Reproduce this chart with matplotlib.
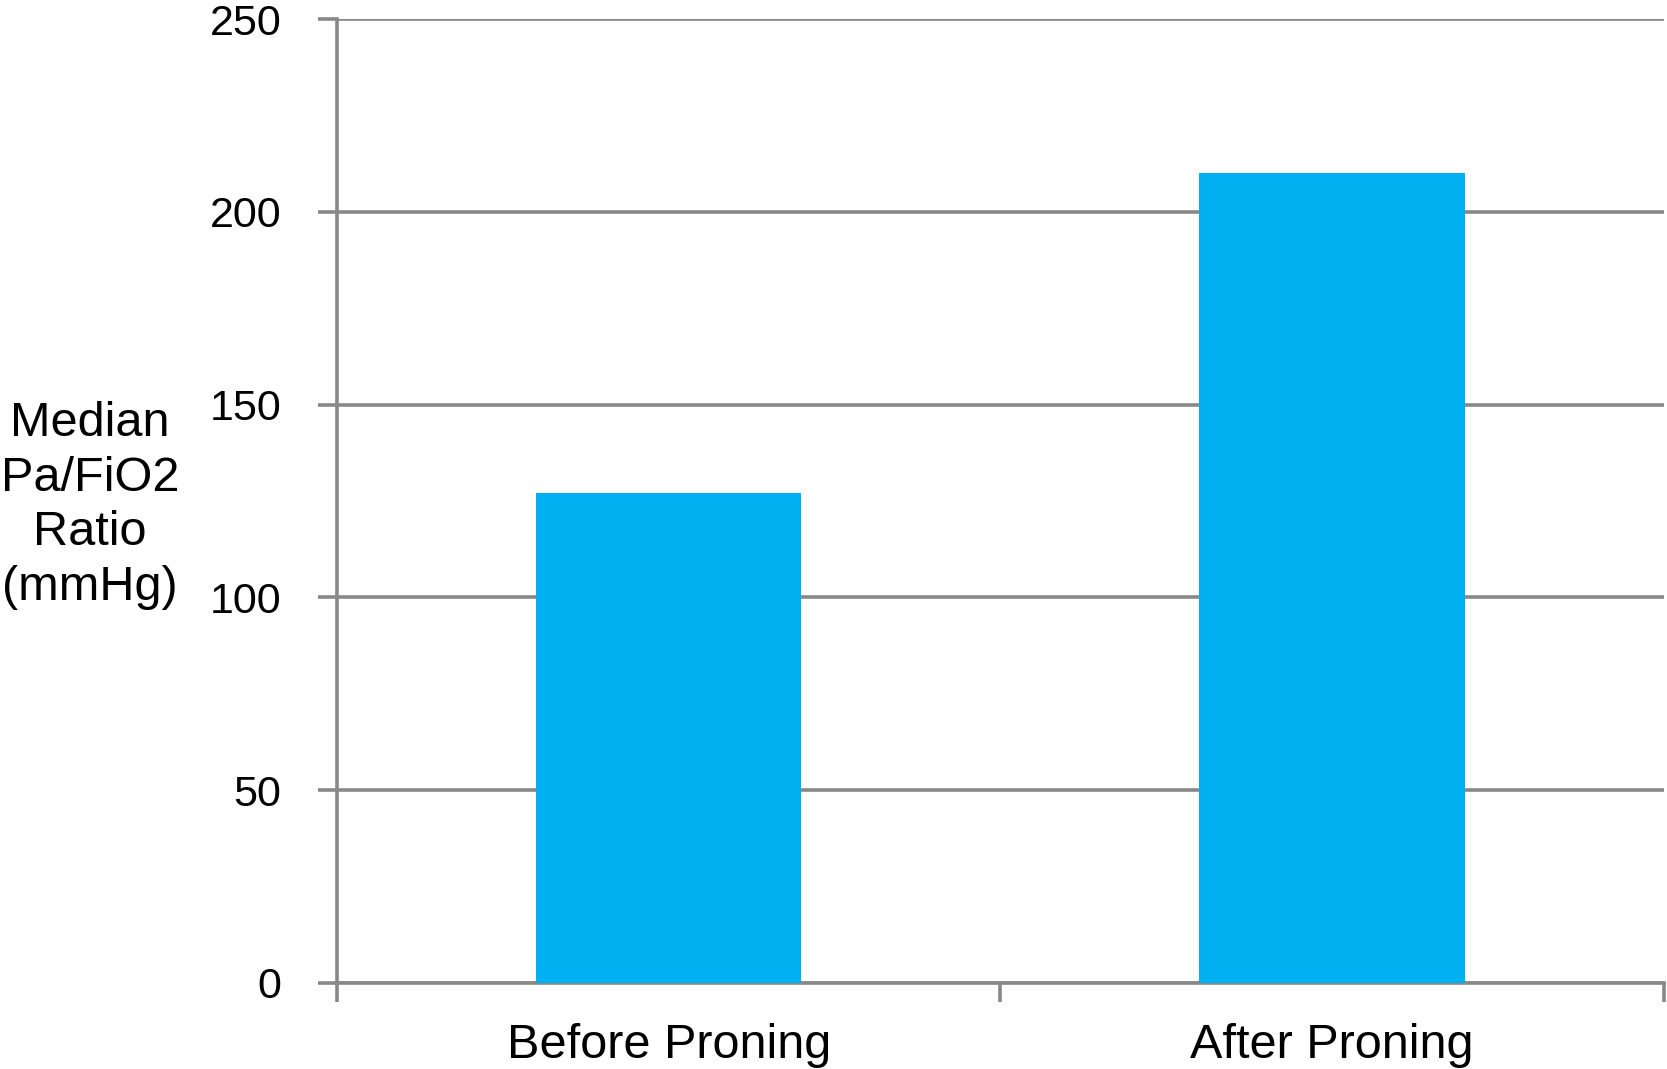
import numpy as np
from matplotlib import pyplot as plt

# data
categories = ['Before Proning', 'After Proning']
values = [127, 210]
y_ticks = [0, 50, 100, 150, 200, 250]

plt.rcParams['font.family'] = ['Liberation Sans', 'DejaVu Sans']
grey = '#888888'

fig = plt.figure(figsize=(16.67, 10.69), dpi=100)
ax = fig.add_axes([0.2022, 0.0805, 0.7958, 0.9017])

x = np.arange(len(categories))
ax.bar(x, values, width=0.4, color='#00b0f0', zorder=3)

ax.set_xlim(-0.5, len(categories) - 0.5)
ax.set_ylim(0, 250)

# gridlines
ax.set_yticks(y_ticks)
ax.yaxis.grid(True, color=grey, linewidth=2.6, zorder=1)
ax.set_axisbelow(True)

# category labels centred, tick marks on the boundaries
ax.set_xticks(x)
ax.set_xticklabels(categories, fontsize=35)
ax.tick_params(axis='x', which='major', length=0, pad=29)
ax.set_xticks(np.arange(len(categories) + 1) - 0.5, minor=True)
ax.tick_params(axis='x', which='minor', length=14, width=2.6, color=grey)
ax.tick_params(axis='y', length=14, width=2.6, color=grey, labelsize=31, pad=26)

for side in ['top', 'right']:
    ax.spines[side].set_visible(False)
for side in ['left', 'bottom']:
    ax.spines[side].set_color(grey)
    ax.spines[side].set_linewidth(2.6)

fig.text(0.054, 0.527, 'Median\nPa/FiO2\nRatio\n(mmHg)', fontsize=35,
         ha='center', va='center', linespacing=1.27)

plt.savefig('out.png', dpi=100)
